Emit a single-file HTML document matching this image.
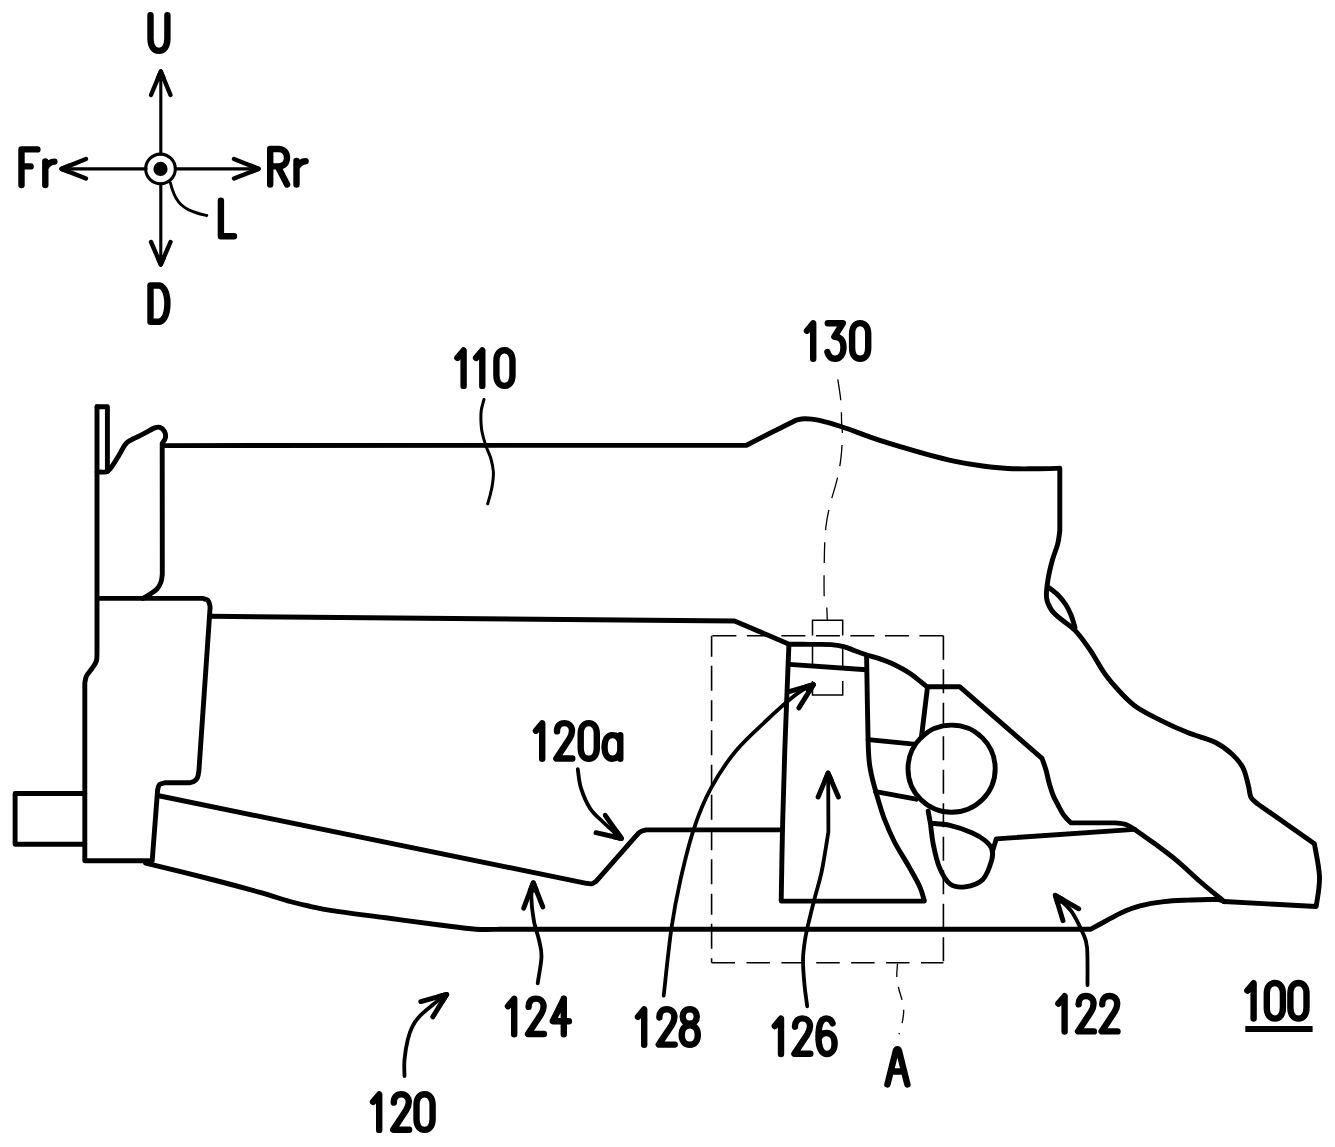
<!DOCTYPE html>
<html><head><meta charset="utf-8">
<style>
html,body{margin:0;padding:0;background:#fff;width:1335px;height:1147px;overflow:hidden}
svg{display:block}
body{font-family:"Liberation Sans",sans-serif}
</style></head><body>
<svg width="1335" height="1147" viewBox="0 0 1335 1147">
<rect width="1335" height="1147" fill="#fff"/>
<g fill="none" stroke="#000" stroke-width="3.1" stroke-linecap="round" stroke-linejoin="round">
<path d="M160.8 72 V154 M160.8 184 V264 M62 168.9 H146 M176 168.9 H258"/>
<circle cx="160.5" cy="168.9" r="14.8"/>
<path d="M170.5 183 C170.8 184.2 171.6 187.5 172.5 190 C173.4 192.5 174.6 195.6 176 198 C177.4 200.4 179 202.6 181 204.5 C183 206.4 185.3 208.1 188 209.5 C190.7 210.9 193.9 212 197 213 C200.1 214 205.2 215.1 206.8 215.5" stroke-width="2.9"/>
</g>
<circle cx="160.5" cy="168.9" r="7.1" fill="#000"/>
<g fill="#000" stroke="#000" stroke-width="4.4" stroke-linecap="round" stroke-linejoin="round">
<path d="M151 95 L160.8 71.5 L170.5 95" fill="none"/><path d="M160.8 71.5 L157.9 78.5 L163.7 78.5 Z"/>
<path d="M151 242 L160.8 264.5 L170.5 242" fill="none"/><path d="M160.8 264.5 L157.9 257.8 L163.7 257.8 Z"/>
<path d="M86 159 L61.5 168.9 L86 178.5" fill="none"/><path d="M61.5 168.9 L68.8 165.9 L68.8 171.8 Z"/>
<path d="M234 159 L258.5 168.9 L234 178.5" fill="none"/><path d="M258.5 168.9 L251.2 165.9 L251.2 171.8 Z"/>
</g>
<g fill="none" stroke="#000" stroke-width="4.9" stroke-linecap="round" stroke-linejoin="round">
<path d="M97 406.7 L107.4 406.7 L107.4 471.5"/>
<path d="M97 406.7 L97 652 C96.9 653.5 97.2 658.2 96.4 661 C95.6 663.8 93.7 666 92 668.5 C90.3 671 87.7 673.6 86.5 676 C85.3 678.4 85.1 681.8 84.8 683 L84.8 860.7 L151.5 860.7"/>
<path d="M84.8 793.5 L15.1 793.5 L15.1 844.2 L84.8 844.2"/>
<path d="M97 471.9 C98.5 471.9 103.7 472.5 106 471.9 C108.3 471.3 108.5 471 110.6 468.3 C112.7 465.6 116.3 459.6 118.7 455.7 C121.1 451.8 123 447.4 124.9 444.9 C126.8 442.3 127.3 442.2 130.3 440.4 C133.3 438.6 138.9 436.3 142.9 434.2 C146.9 432.1 151.8 429 154.6 427.9 C157.4 426.8 158.3 426.8 160 427.4 C161.7 428 163.6 429.8 164.5 431.5 C165.4 433.2 165.8 435.8 165.4 437.8 C165 439.8 162.7 442.6 162.2 443.5 L162.3 574.4 C162.1 575.7 161.9 579.6 161 582 C160.1 584.4 159 586.9 157 589 C155 591.1 151.4 593.2 149.1 594.8 C146.8 596.4 144 597.8 143 598.4"/>
<path d="M164.5 445.6 L746.5 445.2 L795.9 420.2 C797.4 419.9 801.1 418.7 804.9 418.7 C808.6 418.7 812.1 418.8 818.4 420.2 C824.6 421.6 832.2 423.6 842.4 427 C852.6 430.4 865.7 435.8 879.8 440.4 C893.9 445 914.6 450.9 927 454.4 C939.4 457.8 944.9 459.2 953.9 461.1 C962.9 463 971.9 464.6 980.9 465.8 C989.9 467 998.9 468 1007.9 468.5 C1016.9 469 1026.1 468.8 1034.8 468.8 C1043.5 468.8 1055.6 468.4 1059.8 468.3 L1059.8 530.6 C1059.5 532.8 1058.9 539.1 1057.7 544 C1056.5 548.9 1054 554.1 1052.4 560 C1050.8 565.9 1049 573.2 1048 579.5 C1047 585.8 1046 592.5 1046.5 597.5 C1047 602.5 1048.8 605.9 1051 609.4 C1053.2 612.9 1056 614.9 1060 618.4 C1064 621.9 1070 625.1 1075 630.4 C1080 635.6 1085 642.6 1090 649.9 C1095 657.1 1099.9 666.9 1104.9 673.9 C1109.9 680.9 1114.7 686.3 1119.9 691.8 C1125.2 697.3 1129.6 702.2 1136.4 707 C1143.2 711.8 1152.2 716.1 1160.7 720.4 C1169.2 724.7 1178.6 729 1187.6 732.6 C1196.6 736.2 1207.2 738.4 1214.6 742 C1222 745.6 1227.4 749.9 1232.1 754.2 C1236.8 758.5 1240.2 762.4 1242.9 767.6 C1245.6 772.8 1247 780.2 1248.3 785.2 C1249.6 790.2 1249.4 794.2 1251 797.3 C1252.6 800.4 1256 802.4 1257.8 804 C1259.6 805.6 1261.3 806.5 1262 807 L1314.4 843.7 C1315.2 849.2 1319.2 866.4 1319.5 876.9 C1319.8 887.4 1316.8 901.6 1316.2 906.5 L1224 901.5"/>
<path d="M1048 587 C1049.7 588.3 1055 592 1058 595 C1061 598 1063.8 601.7 1066 605 C1068.2 608.3 1069.5 611.3 1071 615 C1072.5 618.7 1074.3 625.3 1075 627.4"/>
<path d="M100 598.4 L203 598.4 C203.8 598.8 206.8 599.2 208 600.5 C209.2 601.8 209.7 604.1 210 606 C210.3 607.9 209.8 611 209.8 612 L198.9 770.8 C198.7 771.9 198.2 775.8 197.5 777.5 C196.8 779.2 195.8 780.1 194.5 781 C193.2 781.9 190.7 782.5 189.9 782.8 L164.8 782.8 C163.9 783.1 160.7 783.3 159.5 784.5 C158.3 785.7 157.9 789.1 157.6 790 L152.2 860.7"/>
<path d="M210.5 616.3 L734.5 621 L789.1 644.2 C792.6 644.2 803 644.3 810 644.4 C817 644.5 825.4 644.2 831 644.6 C836.6 645 839.7 645.6 843.7 646.6 C847.7 647.6 851.2 649.4 854.9 650.7 C858.6 652.1 861.9 653.3 866.1 654.7 C870.3 656.1 875.7 657.4 880 658.9 C884.3 660.4 887.1 661.1 892 663.5 C896.9 665.9 903.6 669.1 909.4 673 C915.2 676.9 923.8 684.4 926.7 686.7 L959.6 686.7 L1042 758.4 C1042.7 760.3 1044.8 766 1046 770 C1047.2 774 1047.8 778.3 1049 782.5 C1050.2 786.7 1051.5 791.2 1053 795 C1054.5 798.8 1056.2 801.6 1058 805 C1059.8 808.4 1061.8 812.5 1064 815.5 C1066.2 818.5 1069.8 821.7 1071 822.9 L1114.9 822.9 C1116.8 823.2 1122.7 823.4 1126 824.5 C1129.3 825.6 1133.2 828.6 1134.7 829.4 C1137.8 831.6 1146.4 837.6 1153.5 842.8 C1160.6 848 1169.2 854.3 1177.1 860.8 C1184.9 867.3 1192.8 875.2 1200.6 882 C1208.4 888.8 1220.3 898.3 1224.2 901.6"/>
<path d="M160 796 L586.4 883.3 C587.2 883.4 589.9 884.1 591.5 883.8 C593.1 883.5 595.3 881.8 596.1 881.4 L635.2 836.9 C636 836.1 638.2 833.2 640 832 C641.8 830.8 645.2 830.2 646.2 829.9 L781.5 829.9"/>
<path d="M145.6 863.1 C157 865.9 194.8 875.1 213.9 880 C233 884.9 247.3 888.8 260 892.4 C272.7 896 281.7 899.2 290 901.5 C298.3 903.8 303 904.8 310 906.3 C317 907.8 319.3 908.7 331.9 910.6 C344.5 912.5 367.8 915.4 385.8 917.8 C403.8 920.2 424.8 923.1 439.8 925 C454.8 926.9 465.7 928.5 475.7 929.2 C485.7 929.9 495.9 929.3 500 929.3 L1090.8 929.2 C1093 928 1098.8 924.8 1104 922 C1109.2 919.2 1116 915.1 1122 912.4 C1128 909.7 1133 907.6 1140 905.8 C1147 904 1155.9 902.5 1163.9 901.6 C1171.9 900.7 1178.9 900.5 1187.9 900.1 C1196.9 899.7 1212.8 899.4 1217.8 899.2 L1224 901.5"/>
<path d="M788.9 645 C788.2 662.5 785.9 719.2 784.8 750 C783.7 780.8 783.1 804.8 782.5 830 C781.9 855.2 781.4 889.2 781.2 901 L924.4 901.1 C923.6 898.7 922.4 892.5 919.9 886.9 C917.4 881.3 913.6 874.9 909.4 867.4 C905.2 859.9 898.7 850.2 894.5 842 C890.3 833.8 887 826 884 818 C881 810 878.8 802 876.5 794 C874.2 786 871.9 778.2 870.5 770 C869.1 761.8 868.9 763.9 868.2 744.9 C867.6 725.9 866.9 670.8 866.6 656"/>
<path d="M789.1 664.4 L866.3 669.7"/>
<path d="M927.4 688 L921.4 737.4"/>
<path d="M868.2 739.6 L913.9 744.1"/>
<path d="M875.7 791.7 L916.2 799.2"/>
<circle cx="951.6" cy="768.7" r="43.6"/>
<path d="M928.2 811.2 L930.4 823.2 C933.6 823.6 942.9 823.8 949.9 825.4 C956.9 827 966.5 830.4 972.4 832.9 C978.2 835.4 981.8 837.8 985 840.5 C988.2 843.2 990.7 845.8 991.8 849 C992.9 852.2 993.3 854.8 991.8 859.9 C990.3 865 987.3 874.9 982.8 879.4 C978.3 883.9 970.4 886.1 964.9 886.9 C959.4 887.6 954.1 887.1 949.9 883.9 C945.6 880.6 942.1 873.9 939.4 867.4 C936.6 860.9 934.9 852.4 933.4 845 C931.9 837.6 930.9 826.8 930.4 823.2"/>
<path d="M992.6 850.9 L996.3 838.9 L1134.7 829.4"/>
<path d="M828.2 777 L828.4 832 C827.3 838.3 824.2 859.2 822 870 C819.8 880.8 817.2 888.5 815 897 C812.8 905.5 810.7 913.8 809 921 C807.3 928.2 806 933.5 805 940 C804 946.5 803.1 952.5 803 960 C802.9 967.5 803.8 977.3 804.5 985 C805.2 992.7 806.8 1002.8 807.2 1006.3" stroke-width="3.8"/>
</g>
<g fill="none" stroke="#000" stroke-width="1.6">
<path d="M943.4 635.7 H711.6" stroke-dasharray="24 10.5"/>
<path d="M711.6 635.7 V962.7" stroke-dasharray="21 9 25 9.5"/>
<path d="M711.6 962.7 H943.4" stroke-dasharray="23.4 11.5"/>
<path d="M943.4 635.7 V962.7" stroke-dasharray="24 9.5"/>
<path d="M812.5 635.5 V620.2 H842.7 V635.5 M812.5 644 V668 M842.7 646 V670 M812.5 681 V695.1 H842.7 V681" stroke-width="1.5"/>
<path d="M837.8 379.4 C838.3 383.1 840.3 394.3 840.9 401.5 C841.5 408.7 841.4 416.8 841.6 422.5 C841.9 428.2 842.5 430 842.4 436 C842.3 442 841.8 451.2 840.9 458.4 C840 465.6 838.9 471.6 837.1 479.4 C835.3 487.2 831.9 496.9 830 505 C828.1 513 826.8 518.5 825.8 527.7 C824.8 536.9 824.5 548 824.3 560 C824 572 823.9 591.8 824.3 599.6 C824.7 607.4 826.1 603.3 826.6 606.7 C827.1 610.1 827.2 617.8 827.3 620" stroke-dasharray="21 12" stroke-width="1.3"/>
<path d="M897.5 963.6 C897.4 965.8 896.6 972.9 896.8 977 C897 981.1 897.7 984.2 898.6 988 C899.5 991.8 901.1 996.3 902 1000 C902.9 1003.7 903.6 1006.5 903.7 1010 C903.8 1013.5 903.3 1017 902.5 1021 C901.7 1025 899.6 1032 899 1034.2" stroke-dasharray="13.5 10" stroke-width="1.3"/>
</g>
<g fill="none" stroke="#000" stroke-width="3.8" stroke-linecap="round" stroke-linejoin="round">
<path d="M577.8 769.2 C578.3 772.4 578.9 781.5 581 788.1 C583.1 794.7 586.6 803.1 590.3 808.8 C594 814.4 598.2 817.4 603 822 C607.8 826.6 616.3 834.1 619 836.5"/>
<path d="M537.7 983.3 C538.3 978.8 541.3 963.8 541.5 956.6 C541.7 949.4 540.3 946 539 940 C537.7 934 535.2 928.1 533.9 920.9 C532.6 913.7 531.4 902.5 531.3 896.7 C531.2 890.9 532.8 887.8 533.1 886"/>
<path d="M404.5 1076 C404.5 1073.3 403.9 1065.8 404.5 1059.7 C405.1 1053.6 406.4 1045.1 407.8 1039.5 C409.2 1033.9 410.5 1030.1 412.6 1026.1 C414.7 1022.1 416.8 1019.2 420.3 1015.5 C423.8 1011.8 429.8 1007.2 433.7 1004 C437.6 1000.8 442.3 997.8 444 996.5"/>
<path d="M663.7 995.6 C665 984.4 668.6 947.8 671.4 928.5 C674.2 909.2 676.7 896.4 680.5 879.6 C684.3 862.8 689.1 843 694.2 827.8 C699.3 812.5 704.1 800.8 711 788.1 C717.9 775.4 726.2 762.7 735.4 751.5 C744.5 740.3 756.2 730.1 765.9 721 C775.6 711.9 786 702.5 793.4 696.6 C800.8 690.7 807.2 687.4 810 685.5"/>
<path d="M1087.5 985 C1087.4 978.7 1087.9 956 1087 947.1 C1086.1 938.2 1084.8 937.7 1082.2 931.8 C1079.6 925.9 1075.6 917.2 1071.6 911.6 C1067.6 906 1060.3 900.3 1058 898"/>
<path d="M484 399.4 C483.6 401.2 481.8 406.7 481.3 410 C480.8 413.3 480.8 415.4 480.9 419 C481 422.6 481.1 427.2 482 431.8 C482.9 436.4 484.6 441.9 486.1 446.4 C487.6 450.9 489.8 454.7 491 459 C492.2 463.3 493.1 467.8 493.4 472 C493.6 476.2 493 480.2 492.5 484 C492 487.8 491.1 491.2 490.3 494.5 C489.5 497.8 488.1 502.3 487.7 503.9" stroke-width="3"/>
</g>
<g fill="#000" stroke="#000" stroke-width="4.9" stroke-linecap="round" stroke-linejoin="round">
<path d="M605.2 815.3 L621.5 838.5 L596 832.7" fill="none"/><path d="M621.5 838.5 L616.6 831.5 L613.9 836.8 Z"/>
<path d="M523.7 908.2 L533.3 882.7 L542.8 906.9" fill="none"/><path d="M533.3 882.7 L530.4 890.4 L536.1 890 Z"/>
<path d="M420.8 1001.6 L446.7 994.4 L432.8 1016.9" fill="none"/><path d="M446.7 994.4 L438.9 996.6 L442.5 1001.1 Z"/>
<path d="M789.9 691.4 L813.4 684.6 L798.9 707.9" fill="none"/><path d="M813.4 684.6 L806.4 686.6 L809 691.6 Z"/>
<path d="M818.1 797 L828.1 773.1 L838.4 797" fill="none"/><path d="M828.1 773.1 L825.1 780.3 L831.2 780.3 Z"/>
<path d="M1063 920.7 L1055.3 895.3 L1078.8 908.8" fill="none"/><path d="M1055.3 895.3 L1057.6 902.9 L1062.3 899.3 Z"/>
</g>

<g fill="none" stroke="#000" stroke-width="6.4" stroke-linecap="round" stroke-linejoin="round">
<path transform="translate(147.30 12.10) scale(1 1.0000)" d="M3.2 3.2 V26.5 C3.2 34.5 6.5 38.8 11.65 38.8 C16.8 38.8 20.1 34.5 20.1 26.5 V3.2"/>
<path transform="translate(147.30 282.20) scale(1 1.0200)" d="M3.2 3.2 V38.8 H11.5 C13.5 38.8 15 38 17 35 C19.5 31 20.1 27 20.1 21 C20.1 15 19.5 11 17 7 C15 4 13.5 3.2 11.5 3.2 Z"/>
<path transform="translate(18.40 146.20) scale(1 1.0000)" d="M3.1 38.8 V3.2 H19 M3.1 20.2 H12.2"/>
<path transform="translate(41.70 146.20) scale(1 1.0000)" d="M3.6 15.2 V38.8 M3.9 21.5 C6.3 17.3 9 15.5 12.7 15.4"/>
<path transform="translate(267.00 145.80) scale(1 1.0000)" d="M3.2 38.8 V3.2 H11.5 C16.8 3.2 20 7 20 12 C20 17 16.8 20.6 11.5 20.6 H3.2 M11.2 21.5 L20.1 38.6"/>
<path transform="translate(292.90 145.80) scale(1 1.0000)" d="M3.6 15.2 V38.8 M3.9 21.5 C6.3 17.3 9 15.5 12.7 15.4"/>
<path transform="translate(217.80 197.50) scale(1 1.0000)" d="M3.1 3.2 V38.8 H16.2"/>
<path transform="translate(454.20 347.10) scale(1 1.0000)" d="M3.2 10.8 L9.4 3.4 V38.8"/>
<path transform="translate(472.90 347.10) scale(1 1.0000)" d="M3.2 10.8 L9.4 3.4 V38.8"/>
<path transform="translate(493.20 347.10) scale(1 1.0000)" d="M3.2 14 C3.2 7 6.5 3.2 11.25 3.2 C16 3.2 19.3 7 19.3 14 V28 C19.3 35 16 38.8 11.25 38.8 C6.5 38.8 3.2 35 3.2 28 Z"/>
<path transform="translate(803.80 319.90) scale(1 1.0000)" d="M3.2 10.8 L9.4 3.4 V38.8"/>
<path transform="translate(824.20 319.90) scale(1 1.0000)" d="M3.6 3.3 H18.6 L10.2 16.8 C16.2 16.6 19.3 20.6 19.3 27.4 C19.3 34.6 15.8 38.8 11 38.8 C7 38.8 4.4 36.5 3.2 32.2"/>
<path transform="translate(848.90 319.90) scale(1 1.0000)" d="M3.2 14 C3.2 7 6.5 3.2 11.25 3.2 C16 3.2 19.3 7 19.3 14 V28 C19.3 35 16 38.8 11.25 38.8 C6.5 38.8 3.2 35 3.2 28 Z"/>
<path transform="translate(532.80 719.90) scale(1 1.0000)" d="M3.2 10.8 L9.4 3.4 V38.8"/>
<path transform="translate(553.00 719.90) scale(1 1.0000)" d="M4 11.5 C3.8 6.2 7 3.2 11.3 3.2 C15.8 3.2 19 6.3 19 11 C19 14 18 16.5 16.3 19.2 L3.4 38.6 H19.3"/>
<path transform="translate(577.50 719.90) scale(1 1.0000)" d="M3.2 14 C3.2 7 6.5 3.2 11.25 3.2 C16 3.2 19.3 7 19.3 14 V28 C19.3 35 16 38.8 11.25 38.8 C6.5 38.8 3.2 35 3.2 28 Z"/>
<path transform="translate(601.30 719.90) scale(1 1.0000)" d="M19 15.2 V38.8 M19 22.5 C18.2 17.6 15.2 15.2 11 15.2 C6 15.2 3.2 20 3.2 27 C3.2 34 6 38.8 11 38.8 C15 38.8 18 35.8 19 31"/>
<path transform="translate(504.80 995.40) scale(1 1.0000)" d="M3.2 10.8 L9.4 3.4 V38.8"/>
<path transform="translate(524.60 995.40) scale(1 1.0000)" d="M4 11.5 C3.8 6.2 7 3.2 11.3 3.2 C15.8 3.2 19 6.3 19 11 C19 14 18 16.5 16.3 19.2 L3.4 38.6 H19.3"/>
<path transform="translate(549.60 995.40) scale(1 1.0000)" d="M14.2 3.4 L3.2 25.8 H19.3 M14.2 3.4 V38.8"/>
<path transform="translate(634.80 1006.00) scale(1 1.0000)" d="M3.2 10.8 L9.4 3.4 V38.8"/>
<path transform="translate(655.40 1006.00) scale(1 1.0000)" d="M4 11.5 C3.8 6.2 7 3.2 11.3 3.2 C15.8 3.2 19 6.3 19 11 C19 14 18 16.5 16.3 19.2 L3.4 38.6 H19.3"/>
<path transform="translate(678.50 1006.00) scale(1 1.0000)" d="M11.25 3.3 C15.6 3.3 18.3 6.3 18.3 10.5 C18.3 14.6 15.6 17.8 11.25 17.8 C6.9 17.8 4.2 14.6 4.2 10.5 C4.2 6.3 6.9 3.3 11.25 3.3 Z M11.25 19.2 C16.2 19.2 19.3 23 19.3 29 C19.3 35 16.2 38.8 11.25 38.8 C6.3 38.8 3.2 35 3.2 29 C3.2 23 6.3 19.2 11.25 19.2 Z"/>
<path transform="translate(369.80 1091.10) scale(1 1.0000)" d="M3.2 10.8 L9.4 3.4 V38.8"/>
<path transform="translate(389.80 1091.10) scale(1 1.0000)" d="M4 11.5 C3.8 6.2 7 3.2 11.3 3.2 C15.8 3.2 19 6.3 19 11 C19 14 18 16.5 16.3 19.2 L3.4 38.6 H19.3"/>
<path transform="translate(413.30 1091.10) scale(1 1.0000)" d="M3.2 14 C3.2 7 6.5 3.2 11.25 3.2 C16 3.2 19.3 7 19.3 14 V28 C19.3 35 16 38.8 11.25 38.8 C6.5 38.8 3.2 35 3.2 28 Z"/>
<path transform="translate(771.60 1015.20) scale(1 1.0000)" d="M3.2 10.8 L9.4 3.4 V38.8"/>
<path transform="translate(791.00 1015.20) scale(1 1.0000)" d="M4 11.5 C3.8 6.2 7 3.2 11.3 3.2 C15.8 3.2 19 6.3 19 11 C19 14 18 16.5 16.3 19.2 L3.4 38.6 H19.3"/>
<path transform="translate(815.30 1015.20) scale(1 1.0000)" d="M17.3 8.2 C16 5 14 3.2 11 3.2 C6 3.2 3.2 9.5 3.2 21.5 C3.2 33 6.5 38.8 11.25 38.8 C16 38.8 19.3 34.5 19.3 28.2 C19.3 21.5 16 17.8 11.25 17.8 C7.2 17.8 4.2 20.3 3.2 24"/>
<path transform="translate(884.20 1045.70) scale(1 1.0000)" d="M3.2 38.8 L11.6 5.2 C12.3 2.8 14.1 2.8 14.8 5.2 L23.2 38.8 M7.2 25.8 H19.2"/>
<path transform="translate(1055.20 992.80) scale(1 1.0000)" d="M3.2 10.8 L9.4 3.4 V38.8"/>
<path transform="translate(1074.60 992.80) scale(1 1.0000)" d="M4 11.5 C3.8 6.2 7 3.2 11.3 3.2 C15.8 3.2 19 6.3 19 11 C19 14 18 16.5 16.3 19.2 L3.4 38.6 H19.3"/>
<path transform="translate(1098.20 992.80) scale(1 1.0000)" d="M4 11.5 C3.8 6.2 7 3.2 11.3 3.2 C15.8 3.2 19 6.3 19 11 C19 14 18 16.5 16.3 19.2 L3.4 38.6 H19.3"/>
<path transform="translate(1244.20 979.80) scale(1 1.0000)" d="M3.2 10.8 L9.4 3.4 V38.8"/>
<path transform="translate(1263.60 979.80) scale(1 1.0000)" d="M3.2 14 C3.2 7 6.5 3.2 11.25 3.2 C16 3.2 19.3 7 19.3 14 V28 C19.3 35 16 38.8 11.25 38.8 C6.5 38.8 3.2 35 3.2 28 Z"/>
<path transform="translate(1287.20 979.80) scale(1 1.0000)" d="M3.2 14 C3.2 7 6.5 3.2 11.25 3.2 C16 3.2 19.3 7 19.3 14 V28 C19.3 35 16 38.8 11.25 38.8 C6.5 38.8 3.2 35 3.2 28 Z"/>
</g>
<path d="M1245.3 1029 H1312.6" stroke="#000" stroke-width="5.8"/>
</svg>
</body></html>
